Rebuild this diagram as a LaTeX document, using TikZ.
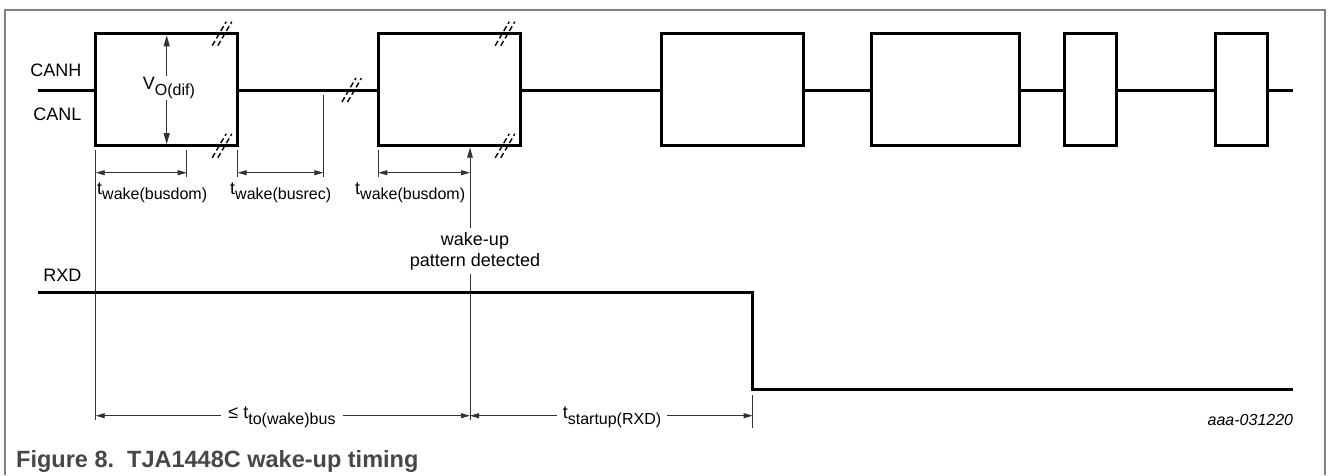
\documentclass[tikz,border=0pt]{standalone}
\usepackage{fontspec}
\setmainfont{Liberation Sans}
\usetikzlibrary{arrows.meta}
\newcommand{\sbs}[1]{\raisebox{-5.5pt}{\fontsize{16}{16}\selectfont #1}}
\tikzset{
  sig/.style={line width=3pt, line join=miter},
  frameline/.style={line width=1.2pt, black!50},
  dimline/.style={line width=0.9pt, black!80},
  dimarr/.style={dimline, {Triangle[length=9pt,width=5pt]}-{Triangle[length=9pt,width=5pt]}},
  brkline/.style={line width=1.4pt, dash pattern=on 5.5pt off 3pt},
  brkmark/.pic={
    \draw[brkline] (-9.8,12) -- (4.2,-12);
    \draw[brkline] (-4.2,12) -- (9.8,-12);
  },
  lbl/.style={font=\fontsize{18}{21}\selectfont, inner sep=0pt},
}
\begin{document}
\begin{tikzpicture}[x=1pt,y=-1pt]
\useasboundingbox (0,0) rectangle (1328,475);
% frame
\draw[frameline] (5,475) -- (5,10) -- (1325,10) -- (1325,475);

% coordinates
\def\yt{33.7}\def\yb{145.8}\def\ym{90}
\coordinate (c0) at (37.7,\ym);
\coordinate (b1l) at (95.7,\ym);   \coordinate (b1r) at (237.7,\ym);
\coordinate (b2l) at (378.3,\ym);  \coordinate (b2r) at (520.7,\ym);
\coordinate (b3l) at (661,\ym);    \coordinate (b3r) at (803.3,\ym);
\coordinate (b4l) at (871.7,\ym);  \coordinate (b4r) at (1019,\ym);
\coordinate (b5l) at (1064,\ym);   \coordinate (b5r) at (1116.7,\ym);
\coordinate (b6l) at (1215.7,\ym); \coordinate (b6r) at (1267,\ym);
\coordinate (cend) at (1293.3,\ym);

% CAN signal
\draw[sig] (c0) -- (b1l);
\draw[sig] (95.7,\yt) rectangle (237.7,\yb);
\draw[sig] (b1r) -- (b2l);
\draw[sig] (378.3,\yt) rectangle (520.7,\yb);
\draw[sig] (b2r) -- (b3l);
\draw[sig] (661,\yt) rectangle (803.3,\yb);
\draw[sig] (b3r) -- (b4l);
\draw[sig] (871.7,\yt) rectangle (1019,\yb);
\draw[sig] (b4r) -- (b5l);
\draw[sig] (1064,\yt) rectangle (1116.7,\yb);
\draw[sig] (b5r) -- (b6l);
\draw[sig] (1215.7,\yt) rectangle (1267,\yb);
\draw[sig] (b6r) -- (cend);

% break marks
\pic at (222,\yt) {brkmark};
\pic at (222,\yb) {brkmark};
\pic at (351.7,\ym) {brkmark};
\pic at (505,\yt) {brkmark};
\pic at (505,\yb) {brkmark};

% V_O(dif)
\coordinate (vt) at (166.7,35.3);
\coordinate (vb) at (166.7,144.2);
\draw[dimline, {Triangle[length=11pt,width=6pt]}-{Triangle[length=11pt,width=6pt]}] (vt) -- (vb);
\node[lbl, anchor=base west, fill=white, inner ysep=1.5pt, inner xsep=1pt] (vod) at (141.7,89.5) {V\sbs{O(dif)}};

% labels
\node[lbl, anchor=base east] (canh) at (81.7,76) {CANH};
\node[lbl, anchor=base east] (canl) at (81.7,120.7) {CANL};
\node[lbl, anchor=base east] (rxd) at (81.7,281.7) {RXD};

% extension lines
\coordinate (e1t) at (95.7,150);  \coordinate (e1b) at (95.7,420);
\coordinate (e2t) at (186.7,150); \coordinate (e2b) at (186.7,177);
\coordinate (e3t) at (237.7,150); \coordinate (e3b) at (237.7,177);
\coordinate (e4t) at (323.3,94.5); \coordinate (e4b) at (323.3,177);
\coordinate (e5t) at (378.3,150); \coordinate (e5b) at (378.3,177);
\coordinate (e6t) at (752.7,395); \coordinate (e6b) at (752.7,428);
\draw[dimline] (e1t) -- (e1b);
\draw[dimline] (e2t) -- (e2b);
\draw[dimline] (e3t) -- (e3b);
\draw[dimline] (e4t) -- (e4b);
\draw[dimline] (e5t) -- (e5b);
\draw[dimline] (e6t) -- (e6b);

% wake-up detected line
\coordinate (wtip) at (470,147.5);
\coordinate (wa) at (470,228);
\coordinate (wb) at (470,274);
\coordinate (wend) at (470,420);
\draw[dimline, -{Triangle[length=10pt,width=5.5pt]}] (wa) -- (wtip);
\draw[dimline] (wb) -- (wend);
\node[lbl, anchor=base] (wk1) at (475,245) {wake-up};
\node[lbl, anchor=base] (wk2) at (475,266.7) {pattern detected};

% upper dimension arrows
\def\yd{172.7}
\draw[dimarr] (95.7,\yd) -- (186.7,\yd);
\draw[dimarr] (237.7,\yd) -- (323.3,\yd);
\draw[dimarr] (378.3,\yd) -- (470,\yd);
\node[lbl, anchor=base west] (tw1) at (97,194) {t\sbs{wake(busdom)}};
\node[lbl, anchor=base west] (tw2) at (230,194) {t\sbs{wake(busrec)}};
\node[lbl, anchor=base west] (tw3) at (355,194) {t\sbs{wake(busdom)}};

% RXD signal
\coordinate (r0) at (37.7,292.3);
\coordinate (r1) at (752.7,292.3);
\coordinate (r2) at (752.7,389);
\coordinate (r3) at (1293.3,389);
\draw[sig] (r0) -- (r1) -- (r2) -- (r3);

% lower dimension arrows
\def\ye{415.7}
\draw[dimarr] (95.7,\ye) -- (470,\ye);
\draw[dimarr] (470,\ye) -- (752.7,\ye);
\node[lbl, anchor=base, fill=white, inner xsep=7pt, inner ysep=1pt] (tto) at (282,418.7) {≤ t\sbs{to(wake)bus}};
\node[lbl, anchor=base, fill=white, inner xsep=6pt, inner ysep=1pt] (tsu) at (612,418.7) {t\sbs{startup(RXD)}};

% figure id and caption
\node[inner sep=0pt, anchor=base east, font=\fontsize{16}{18}\selectfont\itshape] (fid) at (1293.3,425) {aaa-031220};
\node[inner sep=0pt, anchor=base west, font=\fontsize{23.5}{26}\selectfont\bfseries, text=black!72] (cap) at (16,467) {Figure 8.\ \ TJA1448C wake-up timing};
\end{tikzpicture}
\end{document}
